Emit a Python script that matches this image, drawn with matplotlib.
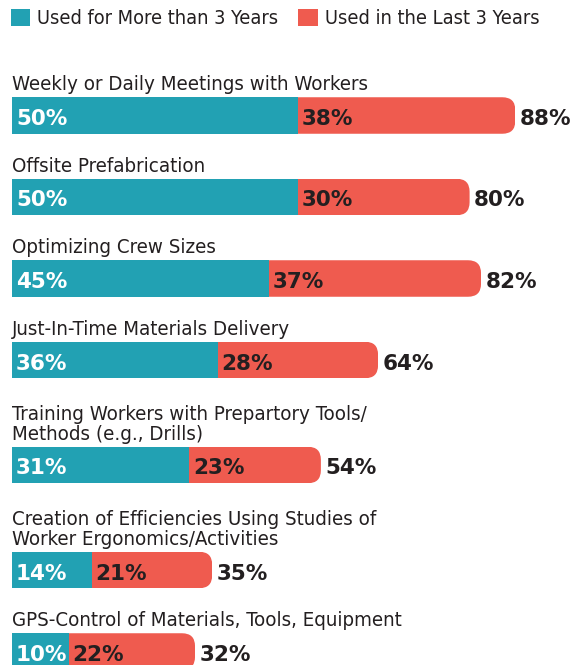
import matplotlib
matplotlib.use('Agg')
import matplotlib.pyplot as plt
from matplotlib.patches import FancyBboxPatch
from matplotlib.font_manager import FontProperties

# Chart data
categories = [
    'Weekly or Daily Meetings with Workers',
    'Offsite Prefabrication',
    'Optimizing Crew Sizes',
    'Just-In-Time Materials Delivery',
    'Training Workers with Prepartory Tools/\nMethods (e.g., Drills)',
    'Creation of Efficiencies Using Studies of\nWorker Ergonomics/Activities',
    'GPS-Control of Materials, Tools, Equipment',
]
more_than_3 = [50, 50, 45, 36, 31, 14, 10]
last_3 = [38, 30, 37, 28, 23, 21, 22]
series_names = ['Used for More than 3 Years', 'Used in the Last 3 Years']

TEAL = '#22A1B3'
RED = '#EF5B4F'
DARK = '#231F20'
W, H = 574, 665
PX_PER_PCT = 5.72
X0 = 12  # left edge of bars in pixels

label_font = FontProperties(family='DejaVu Sans', stretch='condensed', size=14.7)
legend_font = FontProperties(family='DejaVu Sans', stretch='condensed', size=14.3)
pct_font = FontProperties(family='DejaVu Sans', weight='bold', size=15.5)

fig = plt.figure(figsize=(W / 100, H / 100), dpi=100)
ax = fig.add_axes([0, 0, 1, 1])
ax.set_xlim(-X0 / PX_PER_PCT, (W - X0) / PX_PER_PCT)
ax.set_ylim(H, 0)
ax.axis('off')

bar_h = 36.5
# vertical positions: one-line labels step 81.5px, every extra line adds 23.5px
centers = []
c = 115.5
for i, cat in enumerate(categories):
    if i > 0:
        c += 81.5 + 23.5 * (cat.count('\n'))
    centers.append(c)

b1 = ax.barh(centers, more_than_3, height=bar_h, color=TEAL, label=series_names[0], zorder=3)
b2 = ax.barh(centers, last_3, left=more_than_3, height=bar_h, color=RED, label=series_names[1], zorder=2)

# round the right end of each bar
r = 13
for rect, y, a, b in zip(b2.patches, centers, more_than_3, last_3):
    clip = FancyBboxPatch((0, y - bar_h / 2), a + b, bar_h,
                          boxstyle='round,pad=0,rounding_size=%f' % (r / PX_PER_PCT),
                          mutation_aspect=PX_PER_PCT, transform=ax.transData)
    rect.set_clip_path(clip)

for cat, y, a, b in zip(categories, centers, more_than_3, last_3):
    ax.text(0, y - bar_h / 2 - 3, cat, fontproperties=label_font,
            color=DARK, va='bottom', ha='left', linespacing=1.05)
    ax.text(0.7, y + 9.5, f'{a}%', fontproperties=pct_font,
            color='white', va='baseline', ha='left', zorder=4)
    ax.text(a + 0.6, y + 9.5, f'{b}%', fontproperties=pct_font,
            color=DARK, va='baseline', ha='left', zorder=4)
    ax.text(a + b + 0.75, y + 9.5, f'{a + b}%', fontproperties=pct_font,
            color=DARK, va='baseline', ha='left', zorder=4)

ax.legend(handles=[b1, b2], loc='upper left', bbox_to_anchor=(0.005, 0.999), ncol=2,
          frameon=False, handlelength=0.98, handleheight=0.98, handletextpad=0.35,
          columnspacing=1.0, borderaxespad=0,
          prop=legend_font, labelcolor=DARK)

fig.savefig('out.png', dpi=100)
